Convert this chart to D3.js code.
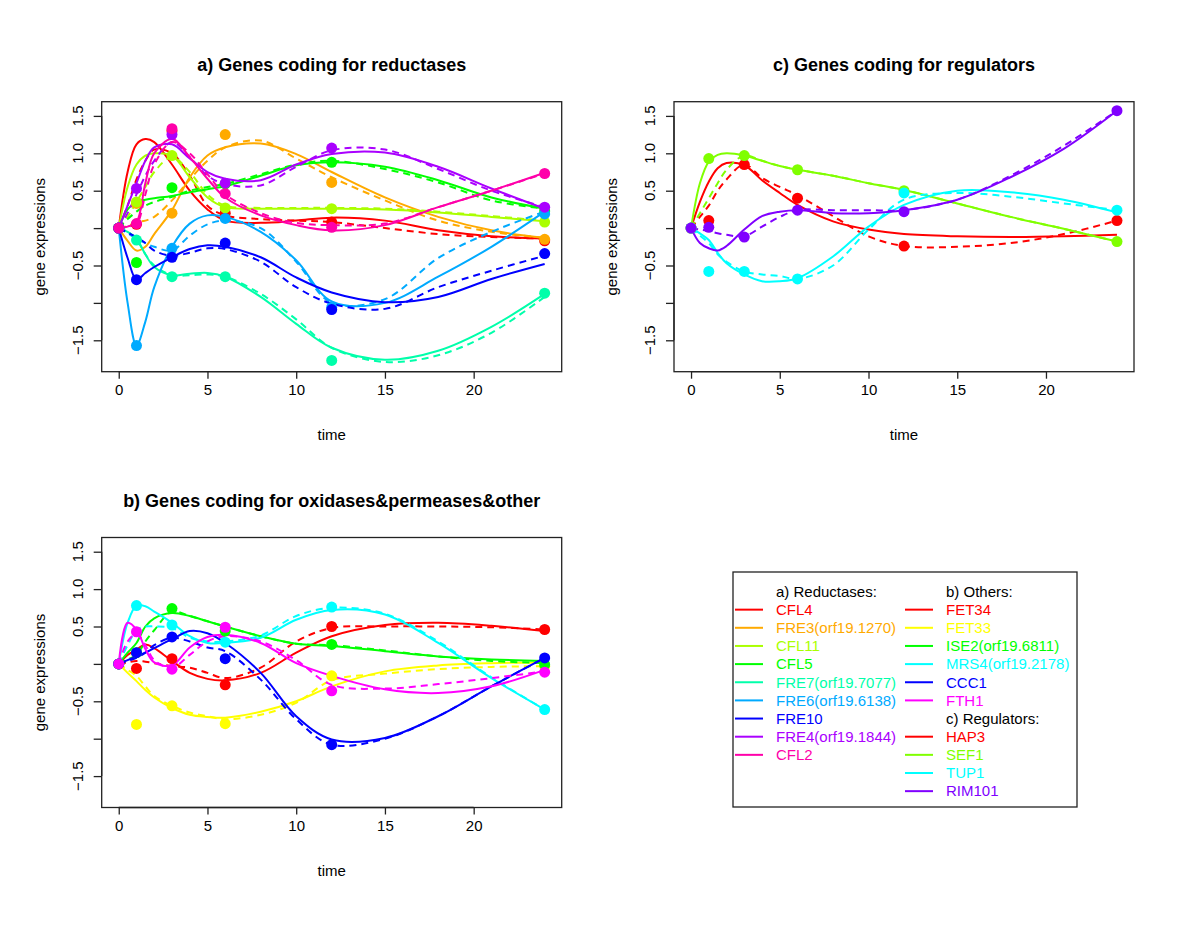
<!DOCTYPE html>
<html>
<head>
<meta charset="utf-8">
<script src="https://cdn.jsdelivr.net/npm/d3@7"></script>
<style>
  html, body { margin: 0; padding: 0; background: #fff; }
  svg { display: block; font-family: "Liberation Sans", Arial, Helvetica, sans-serif; }
</style>
</head>
<body>
<svg id="chart" width="1200" height="927"></svg>
<script>
// ---------- data ----------
const timePoints = [0, 1, 3, 6, 12, 24];
const fitTimes = [0, 0.5, 1, 1.5, 2, 3, 4, 5, 6, 8, 10, 12, 15, 18, 21, 24];
const xTicks = [0, 5, 10, 15, 20];
const yTicks = [-1.5, -1, -0.5, 0, 0.5, 1, 1.5];
const yTickLabels = ["\u22121.5", "", "\u22120.5", "", "0.5", "1.0", "1.5"];

// a) reductases
const reductaseGenes = ["CFL4", "FRE3(orf19.1270)", "CFL11", "CFL5", "FRE7(orf19.7077)", "FRE6(orf19.6138)", "FRE10", "FRE4(orf19.1844)", "CFL2"];
const reductaseObs = [
  [0, 0.05, 1.3, 0.2, 0.08, -0.17],
  [0, 0.33, 0.2, 1.25, 0.61, -0.15],
  [0, 0.35, 0.97, 0.27, 0.26, 0.08],
  [0, -0.46, 0.54, 0.59, 0.88, 0.23],
  [0, -0.16, -0.65, -0.65, -1.77, -0.87],
  [0, -1.57, -0.27, 0.13, -1.06, 0.19],
  [0, -0.69, -0.39, -0.2, -1.09, -0.34],
  [0, 0.53, 1.25, 0.6, 1.07, 0.28],
  [0, 0.06, 1.33, 0.46, 0.01, 0.73]
];
const reductaseFit = [
  [0, 0.75, 1.12, 1.19, 1.15, 0.85, 0.5, 0.25, 0.1, 0.07, 0.1, 0.14, 0.1, -0.03, -0.11, -0.14],
  [0, -0.17, -0.3, -0.25, -0.08, 0.24, 0.68, 0.97, 1.08, 1.13, 0.99, 0.75, 0.41, 0.15, -0.03, -0.13],
  [0, 0.55, 0.85, 0.97, 1.0, 0.97, 0.68, 0.41, 0.28, 0.26, 0.26, 0.26, 0.25, 0.21, 0.15, 0.09],
  [0, 0.25, 0.35, 0.38, 0.4, 0.43, 0.48, 0.52, 0.56, 0.7, 0.84, 0.88, 0.82, 0.64, 0.41, 0.26],
  [0, -0.05, -0.14, -0.35, -0.52, -0.63, -0.61, -0.6, -0.65, -0.92, -1.28, -1.6, -1.76, -1.64, -1.32, -0.88],
  [0, -1.0, -1.57, -1.25, -0.79, -0.25, 0.06, 0.17, 0.15, -0.05, -0.43, -0.98, -1.0, -0.65, -0.25, 0.22],
  [0, -0.4, -0.69, -0.6, -0.52, -0.39, -0.28, -0.23, -0.25, -0.39, -0.66, -0.86, -0.99, -0.92, -0.68, -0.48],
  [0, 0.3, 0.6, 0.9, 1.08, 1.12, 0.93, 0.75, 0.66, 0.64, 0.85, 0.99, 1.01, 0.82, 0.53, 0.26],
  [0, 0.02, 0.08, 0.6, 1.0, 1.19, 0.95, 0.66, 0.41, 0.17, 0.04, -0.03, 0.04, 0.28, 0.5, 0.74]
];
const reductaseFitDashed = [
  [0, 0.3, 0.65, 0.9, 1.05, 1.0, 0.7, 0.3, 0.17, 0.12, 0.1, 0.08, 0.0, -0.08, -0.12, -0.14],
  [0, 0.03, 0.08, 0.1, 0.15, 0.37, 0.65, 0.9, 1.08, 1.17, 0.93, 0.68, 0.37, 0.1, -0.05, -0.13],
  [0, 0.15, 0.35, 0.55, 0.75, 0.95, 0.75, 0.45, 0.3, 0.27, 0.27, 0.27, 0.26, 0.22, 0.16, 0.1],
  [0, 0.12, 0.22, 0.3, 0.35, 0.42, 0.5, 0.55, 0.59, 0.72, 0.85, 0.9, 0.79, 0.61, 0.37, 0.26],
  [0, -0.05, -0.15, -0.35, -0.5, -0.63, -0.63, -0.62, -0.65, -0.88, -1.22, -1.6, -1.79, -1.7, -1.4, -0.92],
  [0, -0.07, -0.14, -0.2, -0.25, -0.3, -0.1, 0.05, 0.1, 0.0, -0.45, -1.0, -0.95, -0.4, -0.05, 0.22],
  [0, -0.06, -0.12, -0.2, -0.3, -0.37, -0.33, -0.27, -0.28, -0.45, -0.79, -1.01, -1.08, -0.79, -0.57, -0.37],
  [0, 0.2, 0.45, 0.7, 0.9, 1.15, 0.95, 0.7, 0.59, 0.57, 0.82, 1.04, 1.05, 0.79, 0.5, 0.28],
  [0, 0.02, 0.05, 0.45, 0.85, 1.15, 1.0, 0.72, 0.45, 0.2, 0.07, 0.04, 0.06, 0.28, 0.5, 0.73]
];

// b) oxidases & permeases & other
const otherGenes = ["FET34", "FET33", "ISE2(orf19.6811)", "MRS4(orf19.2178)", "CCC1", "FTH1"];
const otherObs = [
  [0, -0.06, 0.07, -0.28, 0.5, 0.46],
  [0, -0.81, -0.56, -0.8, -0.16, -0.03],
  [0, 0.15, 0.74, 0.44, 0.26, -0.01],
  [0, 0.78, 0.52, 0.29, 0.76, -0.61],
  [0, 0.15, 0.36, 0.07, -1.08, 0.08],
  [0, 0.43, -0.07, 0.49, -0.36, -0.11]
];
const otherFit = [
  [0, 0.12, 0.19, 0.26, 0.21, 0.04, -0.12, -0.2, -0.22, -0.12, 0.15, 0.37, 0.52, 0.55, 0.51, 0.44],
  [0, -0.12, -0.23, -0.35, -0.45, -0.59, -0.68, -0.71, -0.72, -0.64, -0.5, -0.3, -0.1, -0.02, 0.01, 0.02],
  [0, 0.15, 0.28, 0.5, 0.61, 0.68, 0.64, 0.57, 0.5, 0.37, 0.27, 0.24, 0.17, 0.1, 0.06, 0.04],
  [0, 0.55, 0.78, 0.77, 0.7, 0.55, 0.37, 0.28, 0.28, 0.35, 0.59, 0.72, 0.66, 0.28, -0.19, -0.61],
  [0, 0.05, 0.1, 0.15, 0.21, 0.33, 0.44, 0.41, 0.28, -0.12, -0.7, -1.01, -0.99, -0.7, -0.3, 0.08],
  [0, 0.55, 0.46, 0.2, 0.02, -0.02, 0.22, 0.36, 0.39, 0.28, 0.01, -0.16, -0.34, -0.39, -0.3, -0.08]
];
const otherFitDashed = [
  [0, 0.02, 0.04, 0.03, 0.01, -0.03, -0.05, -0.12, -0.19, -0.05, 0.3, 0.48, 0.5, 0.5, 0.49, 0.46],
  [0, -0.08, -0.16, -0.3, -0.43, -0.56, -0.65, -0.7, -0.74, -0.68, -0.52, -0.22, -0.13, -0.07, -0.04, -0.03],
  [0, 0.06, 0.12, 0.3, 0.45, 0.7, 0.64, 0.57, 0.5, 0.37, 0.27, 0.25, 0.18, 0.1, 0.04, 0.01],
  [0, 0.25, 0.45, 0.5, 0.5, 0.48, 0.35, 0.3, 0.3, 0.38, 0.64, 0.75, 0.67, 0.3, -0.18, -0.61],
  [0, 0.04, 0.08, 0.15, 0.25, 0.35, 0.3, 0.22, 0.17, -0.21, -0.74, -1.08, -1.0, -0.7, -0.3, 0.08],
  [0, 0.3, 0.4, 0.25, 0.05, -0.05, 0.12, 0.3, 0.37, 0.3, 0.05, -0.28, -0.33, -0.27, -0.19, -0.1]
];

// c) regulators
const regulatorGenes = ["HAP3", "SEF1", "TUP1", "RIM101"];
const regulatorObs = [
  [0, 0.1, 0.85, 0.4, -0.24, 0.1],
  [0, 0.93, 0.97, 0.78, 0.5, -0.18],
  [0, -0.58, -0.58, -0.68, 0.47, 0.24],
  [0, 0.01, -0.12, 0.24, 0.22, 1.57]
];
const regulatorFit = [
  [0, 0.35, 0.62, 0.8, 0.87, 0.84, 0.64, 0.47, 0.31, 0.09, -0.02, -0.08, -0.11, -0.12, -0.11, -0.09],
  [0, 0.6, 0.89, 0.98, 1.0, 0.97, 0.9, 0.83, 0.78, 0.7, 0.6, 0.51, 0.33, 0.15, -0.01, -0.18],
  [0, -0.07, -0.16, -0.33, -0.47, -0.62, -0.71, -0.71, -0.67, -0.38, 0.02, 0.31, 0.5, 0.48, 0.38, 0.21],
  [0, -0.2, -0.27, -0.3, -0.24, -0.02, 0.16, 0.22, 0.24, 0.2, 0.2, 0.24, 0.38, 0.68, 1.06, 1.57]
];
const regulatorFitDashed = [
  [0, 0.15, 0.3, 0.5, 0.65, 0.85, 0.67, 0.55, 0.44, 0.16, -0.11, -0.24, -0.25, -0.2, -0.08, 0.1],
  [0, 0.2, 0.4, 0.6, 0.78, 0.97, 0.9, 0.83, 0.78, 0.7, 0.6, 0.51, 0.33, 0.15, -0.01, -0.18],
  [0, -0.1, -0.2, -0.35, -0.45, -0.58, -0.62, -0.64, -0.68, -0.5, -0.02, 0.38, 0.47, 0.42, 0.33, 0.24],
  [0, -0.02, -0.04, -0.07, -0.09, -0.11, 0.02, 0.15, 0.24, 0.24, 0.24, 0.24, 0.38, 0.7, 1.1, 1.57]
];

// ---------- styles ----------
const reductaseColors = ["#FF0000", "#FFAA00", "#AAFF00", "#00FF00", "#00FFAA", "#00AAFF", "#0000FF", "#AA00FF", "#FF00AA"];
const otherColors = ["#FF0000", "#FFFF00", "#00FF00", "#00FFFF", "#0000FF", "#FF00FF"];
const regulatorColors = ["#FF0000", "#80FF00", "#00FFFF", "#8000FF"];

const svg = d3.select("#chart");
svg.append("rect").attr("width", 1200).attr("height", 927).attr("fill", "#fff");

const FS = 15;

function panel(opts) {
  const { left, right, top, bottom, title, genes, obs, fit, fitDashed, colors } = opts;
  const x = d3.scaleLinear().domain([-0.96, 24.96]).range([left, right]);
  const y = d3.scaleLinear().domain([-1.92, 1.69]).range([bottom, top]);
  const g = svg.append("g");

  const clipId = "clip" + Math.round(left) + "_" + Math.round(top);
  svg.append("clipPath").attr("id", clipId).append("rect")
    .attr("x", left).attr("y", top).attr("width", right - left).attr("height", bottom - top);

  const line = d3.line()
    .x((d, i) => x(fitTimes[i]))
    .y(d => y(d))
    .curve(d3.curveCatmullRom.alpha(0.5));

  const plot = g.append("g").attr("clip-path", `url(#${clipId})`);
  genes.forEach((name, k) => {
    plot.append("path").attr("d", line(fitDashed[k]))
      .attr("fill", "none").attr("stroke", colors[k]).attr("stroke-width", 2)
      .attr("stroke-dasharray", "7,5");
    plot.append("path").attr("d", line(fit[k]))
      .attr("fill", "none").attr("stroke", colors[k]).attr("stroke-width", 2);
  });
  genes.forEach((name, k) => {
    plot.selectAll(null).data(obs[k]).enter().append("circle")
      .attr("cx", (d, i) => x(timePoints[i]))
      .attr("cy", d => y(d))
      .attr("r", 5.5)
      .attr("fill", colors[k]);
  });

  // box
  g.append("rect").attr("x", left).attr("y", top).attr("width", right - left).attr("height", bottom - top)
    .attr("fill", "none").attr("stroke", "#222").attr("stroke-width", 1.3);

  // x axis
  const xa = g.append("g").attr("transform", `translate(0,${bottom})`)
    .call(d3.axisBottom(x).tickValues(xTicks).tickSize(7).tickPadding(6).tickFormat(d3.format("d")));
  xa.select(".domain").attr("d", `M${x(xTicks[0])},0H${x(xTicks[xTicks.length - 1])}`).attr("stroke", "#222").attr("stroke-width", 1.3);
  xa.selectAll(".tick line").attr("stroke", "#222").attr("stroke-width", 1.3);
  xa.selectAll(".tick text").attr("font-size", FS).attr("font-family", "Liberation Sans, Arial, sans-serif").attr("fill", "#000");

  // y axis
  const ya = g.append("g").attr("transform", `translate(${left},0)`)
    .call(d3.axisLeft(y).tickValues(yTicks).tickSize(8).tickFormat(() => ""));
  ya.select(".domain").attr("d", `M0,${y(yTicks[0])}V${y(yTicks[yTicks.length - 1])}`).attr("stroke", "#222").attr("stroke-width", 1.3);
  ya.selectAll(".tick line").attr("stroke", "#222").attr("stroke-width", 1.3);
  yTicks.forEach((v, i) => {
    if (!yTickLabels[i]) return;
    g.append("text")
      .attr("transform", `translate(${left - 19},${y(v)}) rotate(-90)`)
      .attr("text-anchor", "middle")
      .attr("font-size", FS)
      .attr("fill", "#000")
      .text(yTickLabels[i]);
  });

  // labels
  g.append("text").attr("x", (left + right) / 2).attr("y", bottom + 68)
    .attr("text-anchor", "middle").attr("font-size", FS).text("time");
  g.append("text")
    .attr("transform", `translate(${left - 57},${(top + bottom) / 2}) rotate(-90)`)
    .attr("text-anchor", "middle").attr("font-size", FS).text("gene expressions");
  g.append("text").attr("x", (left + right) / 2).attr("y", top - 31)
    .attr("text-anchor", "middle").attr("font-size", 18).attr("font-weight", "bold").text(title);
}

panel({ left: 101.7, right: 561.7, top: 101.7, bottom: 371.7, title: "a) Genes coding for reductases",
  genes: reductaseGenes, obs: reductaseObs, fit: reductaseFit, fitDashed: reductaseFitDashed, colors: reductaseColors });
panel({ left: 674, right: 1134, top: 101.7, bottom: 371.7, title: "c) Genes coding for regulators",
  genes: regulatorGenes, obs: regulatorObs, fit: regulatorFit, fitDashed: regulatorFitDashed, colors: regulatorColors });
panel({ left: 101.7, right: 561.7, top: 537.5, bottom: 807.5, title: "b) Genes coding for oxidases&permeases&other",
  genes: otherGenes, obs: otherObs, fit: otherFit, fitDashed: otherFitDashed, colors: otherColors });

// ---------- legend ----------
const lg = svg.append("g");
lg.append("rect").attr("x", 733).attr("y", 572).attr("width", 344).attr("height", 235)
  .attr("fill", "#fff").attr("stroke", "#222").attr("stroke-width", 1.3);

const rowH = 18.15;
const row0 = 591.5;
function legendHeader(col, row, text) {
  const tx = col === 0 ? 776 : 946;
  lg.append("text").attr("x", tx).attr("y", row0 + row * rowH).attr("dy", "0.35em")
    .attr("font-size", FS).attr("fill", "#000").text(text);
}
function legendItem(col, row, text, color) {
  const lx = col === 0 ? 735 : 905;
  const tx = col === 0 ? 776 : 946;
  const yy = row0 + row * rowH;
  lg.append("line").attr("x1", lx).attr("x2", lx + 28).attr("y1", yy).attr("y2", yy)
    .attr("stroke", color).attr("stroke-width", 2);
  lg.append("text").attr("x", tx).attr("y", yy).attr("dy", "0.35em")
    .attr("font-size", FS).attr("fill", color).text(text);
}
legendHeader(0, 0, "a) Reductases:");
reductaseGenes.forEach((g, i) => legendItem(0, i + 1, g, reductaseColors[i]));
legendHeader(1, 0, "b) Others:");
otherGenes.forEach((g, i) => legendItem(1, i + 1, g, otherColors[i]));
legendHeader(1, otherGenes.length + 1, "c) Regulators:");
regulatorGenes.forEach((g, i) => legendItem(1, otherGenes.length + 2 + i, g, regulatorColors[i]));
</script>
</body>
</html>
